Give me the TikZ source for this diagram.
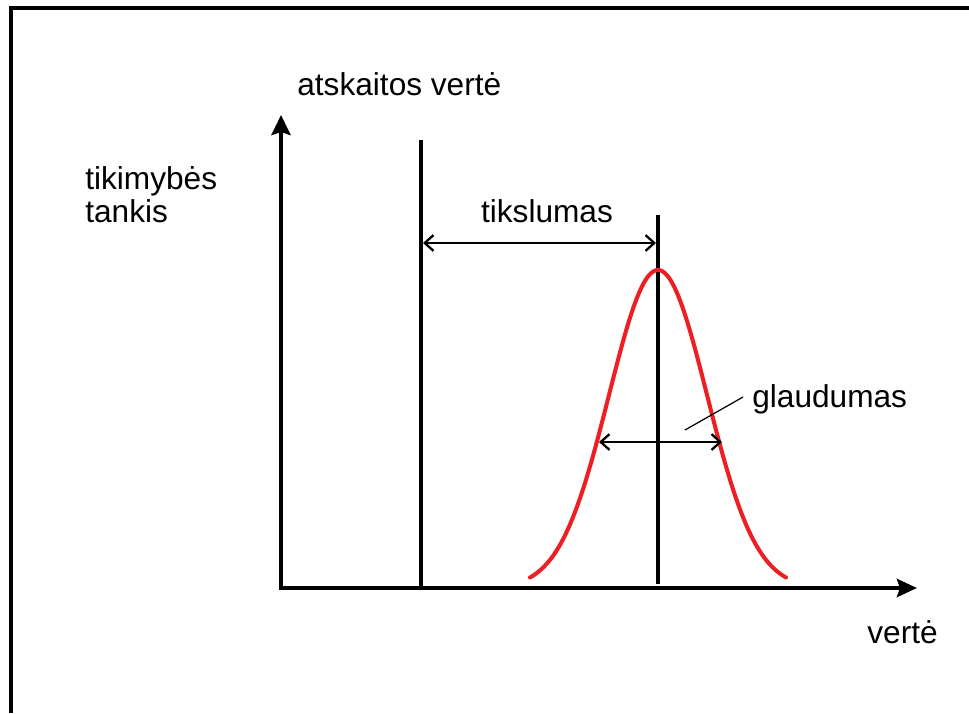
\documentclass[tikz,border=0pt]{standalone}
\usepackage{fontspec}
\setmainfont{Liberation Sans}
\usetikzlibrary{arrows.meta}

\definecolor{curvered}{RGB}{236,32,36}

\tikzset{
  axis/.style={line width=2.8pt, line join=miter,
    {Stealth[length=0.4cm, width=0.38cm, inset=0.06cm]}-{Stealth[length=0.4cm, width=0.36cm, inset=0.06cm]}},
  vline/.style={line width=2.7pt},
  measure/.style={line width=1.3pt,
    {Straight Barb[length=5pt, width=9pt]}-{Straight Barb[length=5pt, width=9pt]}},
  txt/.style={font=\fontsize{18}{18.8}\selectfont, inner sep=0pt},
}

\begin{document}
\begin{tikzpicture}[x=0.02cm, y=-0.02cm]
    \useasboundingbox (0,0) rectangle (969,713);

    % frame, cut off by the page on the right and below
    \draw[line width=2pt] (11,713) -- (11,8) -- (969,8);

    % axes
    \coordinate (ytip) at (281,115);
    \coordinate (O) at (281,588);
    \coordinate (xtip) at (917,588);
    \draw[axis] (ytip) -- (O) -- (xtip);

    % reference value and mean
    \coordinate (reftop) at (421,140);
    \coordinate (refbot) at (421,588);
    \draw[vline] (reftop) -- (refbot);
    \coordinate (meantop) at (658,215);
    \coordinate (meanbot) at (658,584);
    \draw[vline] (meantop) -- (meanbot);

    % density curve
    \draw[curvered, line width=2.3pt, line cap=round]
        plot[domain=-1.28:1.28, samples=90, smooth] ({658+100*\x},{588-318*exp(-(\x)^2/0.481)});

    % measures
    \coordinate (accL) at (423,243);
    \coordinate (accR) at (656,243);
    \draw[measure] (accL) -- (accR);
    \coordinate (precL) at (599,442);
    \coordinate (precR) at (722,442);
    \draw[measure] (precL) -- (precR);

    % labels
    \node[txt, anchor=base west] (ref) at (297,95) {atskaitos vertė};
    \node[txt, anchor=north west, align=left] (dens) at (85,166) {tikimybės\\tankis};
    \node[txt, anchor=base] (acc) at (547,222) {tikslumas};
    \node[txt, anchor=base west] (prec) at (752,407) {glaudumas};
    \node[txt, anchor=base west] (val) at (867,643) {vertė};

    \coordinate (leadA) at (685,430);
    \coordinate (leadB) at (743,397);
    \draw[line width=0.7pt] (leadA) -- (leadB);
\end{tikzpicture}
\end{document}
